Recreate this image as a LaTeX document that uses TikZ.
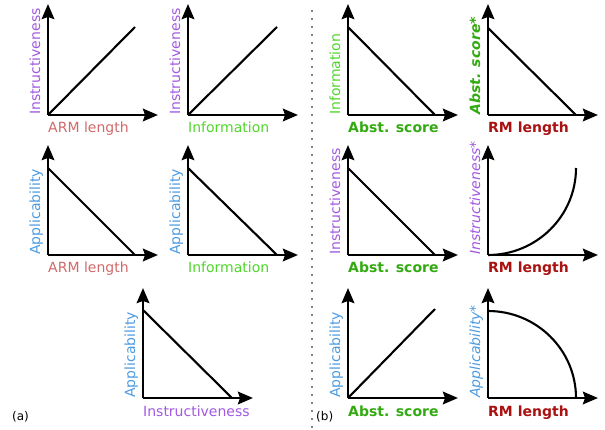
\documentclass[tikz,border=0pt]{standalone}
\usepackage{fontspec}
\setmainfont{DejaVu Sans}
\usetikzlibrary{arrows.meta}
\definecolor{cinstr}{HTML}{A259E0}
\definecolor{carm}{HTML}{D06A6A}
\definecolor{cinfo}{HTML}{4FD62A}
\definecolor{cappl}{HTML}{4D9BE0}
\definecolor{cabst}{HTML}{33AA11}
\definecolor{crm}{HTML}{AA1111}
\tikzset{
  axis/.style={line width=2.7pt,-{Stealth[length=15pt,width=12.5pt,inset=2pt]}},
  curve/.style={line width=2.1pt},
  xlab/.style={anchor=base west,inner sep=0pt,font=\fontsize{14}{14}\selectfont},
  ylab/.style={anchor=base west,inner sep=0pt,rotate=90,font=\fontsize{14}{14}\selectfont},
  tag/.style={anchor=base west,inner sep=0pt,font=\fontsize{12}{12}\selectfont},
}
\begin{document}
\begin{tikzpicture}[x=1pt,y=-1pt]
\useasboundingbox (0,0) rectangle (605,430);
% separator
\draw[gray,line width=2pt,dash pattern=on 2pt off 6pt] (312,10) -- (312,428);
% ---------- column (a) ----------
% row 1, plot 1
\coordinate (o1) at (48,115);
\draw[axis] (o1) -- ++(0,-111);
\draw[axis] (o1) -- ++(110,0);
\coordinate (e1) at (135,27);
\draw[curve] (o1) -- (e1);
\node[xlab,text=carm] (x1) at (48,133) {ARM length};
\node[ylab,text=cinstr] (y1) at (40,115) {Instructiveness};
% row 1, plot 2
\coordinate (o2) at (188,115);
\draw[axis] (o2) -- ++(0,-111);
\draw[axis] (o2) -- ++(110,0);
\coordinate (e2) at (277,27);
\draw[curve] (o2) -- (e2);
\node[xlab,text=cinfo] (x2) at (188,133) {Information};
\node[ylab,text=cinstr] (y2) at (180,115) {Instructiveness};
% row 2, plot 1
\coordinate (o3) at (48,255);
\draw[axis] (o3) -- ++(0,-110);
\draw[axis] (o3) -- ++(110,0);
\coordinate (s3) at (48,168); \coordinate (e3) at (135,255);
\draw[curve] (s3) -- (e3);
\node[xlab,text=carm] (x3) at (48,273) {ARM length};
\node[ylab,text=cappl] (y3) at (40,255) {Applicability};
% row 2, plot 2
\coordinate (o4) at (188,255);
\draw[axis] (o4) -- ++(0,-110);
\draw[axis] (o4) -- ++(110,0);
\coordinate (s4) at (188,168); \coordinate (e4) at (277,255);
\draw[curve] (s4) -- (e4);
\node[xlab,text=cinfo] (x4) at (188,273) {Information};
\node[ylab,text=cappl] (y4) at (180,255) {Applicability};
% row 3, plot
\coordinate (o5) at (143,398);
\draw[axis] (o5) -- ++(0,-110);
\draw[axis] (o5) -- ++(110,0);
\coordinate (s5) at (143,310); \coordinate (e5) at (232,398);
\draw[curve] (s5) -- (e5);
\node[xlab,text=cinstr] (x5) at (143,416) {Instructiveness};
\node[ylab,text=cappl] (y5) at (135,398) {Applicability};
\node[tag] (ta) at (12,420) {(a)};
% ---------- column (b) ----------
% row 1, plot 1
\coordinate (o6) at (348,115);
\draw[axis] (o6) -- ++(0,-111);
\draw[axis] (o6) -- ++(110,0);
\coordinate (s6) at (348,27); \coordinate (e6) at (435,115);
\draw[curve] (s6) -- (e6);
\node[xlab,text=cabst,font=\fontsize{14}{14}\selectfont\bfseries] (x6) at (348,133) {Abst. score};
\node[ylab,text=cinfo] (y6) at (340,115) {Information};
% row 1, plot 2
\coordinate (o7) at (488,115);
\draw[axis] (o7) -- ++(0,-111);
\draw[axis] (o7) -- ++(110,0);
\coordinate (s7) at (488,28); \coordinate (e7) at (576,115);
\draw[curve] (s7) -- (e7);
\node[xlab,text=crm,font=\fontsize{14}{14}\selectfont\bfseries] (x7) at (488,133) {RM length};
\node[ylab,text=cabst,font=\fontsize{14}{14}\selectfont\bfseries\itshape] (y7) at (480,115) {Abst. score*};
% row 2, plot 1
\coordinate (o8) at (348,255);
\draw[axis] (o8) -- ++(0,-110);
\draw[axis] (o8) -- ++(110,0);
\coordinate (s8) at (348,168); \coordinate (e8) at (435,255);
\draw[curve] (s8) -- (e8);
\node[xlab,text=cabst,font=\fontsize{14}{14}\selectfont\bfseries] (x8) at (348,273) {Abst. score};
\node[ylab,text=cinstr] (y8) at (340,255) {Instructiveness};
% row 2, plot 2
\coordinate (o9) at (488,255);
\draw[axis] (o9) -- ++(0,-110);
\draw[axis] (o9) -- ++(110,0);
\draw[curve] (o9) arc[start angle=-90,end angle=0,x radius=88,y radius=-87];
\node[xlab,text=crm,font=\fontsize{14}{14}\selectfont\bfseries] (x9) at (488,273) {RM length};
\node[ylab,text=cinstr,font=\fontsize{14}{14}\selectfont\itshape] (y9) at (480,255) {Instructiveness*};
% row 3, plot 1
\coordinate (o10) at (348,398);
\draw[axis] (o10) -- ++(0,-110);
\draw[axis] (o10) -- ++(110,0);
\coordinate (e10) at (435,309);
\draw[curve] (o10) -- (e10);
\node[xlab,text=cabst,font=\fontsize{14}{14}\selectfont\bfseries] (x10) at (348,416) {Abst. score};
\node[ylab,text=cappl] (y10) at (340,398) {Applicability};
% row 3, plot 2
\coordinate (o11) at (488,398);
\draw[axis] (o11) -- ++(0,-110);
\draw[axis] (o11) -- ++(110,0);
\coordinate (s11) at (488,311);
\draw[curve] (s11) arc[start angle=90,end angle=0,x radius=88,y radius=-87];
\node[xlab,text=crm,font=\fontsize{14}{14}\selectfont\bfseries] (x11) at (488,416) {RM length};
\node[ylab,text=cappl,font=\fontsize{14}{14}\selectfont\itshape] (y11) at (480,398) {Applicability*};
\node[tag] (tb) at (316,420) {(b)};
\end{tikzpicture}
\end{document}
